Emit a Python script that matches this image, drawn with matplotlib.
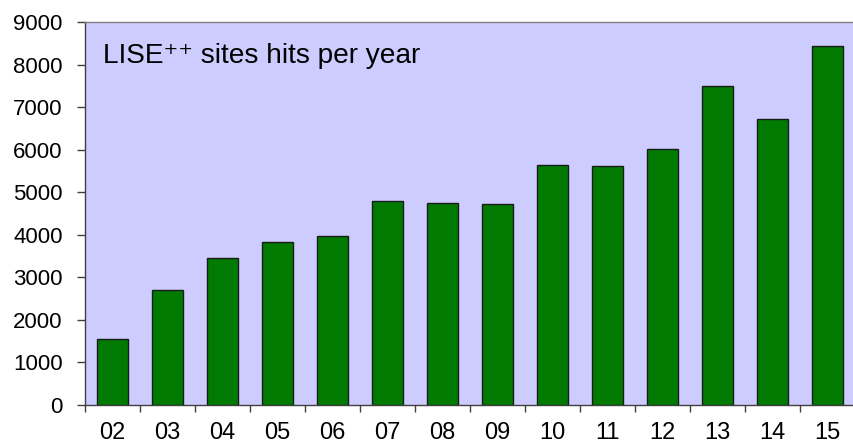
import matplotlib
matplotlib.use("Agg")
import matplotlib.pyplot as plt
import numpy as np

years = ["02", "03", "04", "05", "06", "07", "08", "09", "10", "11", "12", "13", "14", "15"]
hits = [1550, 2705, 3460, 3840, 3975, 4800, 4735, 4715, 5630, 5605, 6010, 7490, 6710, 8430]
yticks = [0, 1000, 2000, 3000, 4000, 5000, 6000, 7000, 8000, 9000]

plt.rcParams['font.family'] = ['Liberation Sans', 'DejaVu Sans']

fig = plt.figure(figsize=(8.54, 4.47), dpi=100)
ax = fig.add_axes([85/854, 1-405/447, 770/854, (405-22)/447])
ax.set_facecolor('#CCCCFF')

x = np.arange(len(years))
ax.bar(x, hits, width=0.55, color='#007A00', edgecolor='#1a1a1a', linewidth=1.0, zorder=3)

ax.set_xlim(-0.5, len(years) - 0.5)
ax.set_ylim(0, 9000)
ax.set_yticks(yticks)
ax.set_yticklabels([str(v) for v in yticks], fontsize=16)
ax.tick_params(axis='y', length=6, width=1, color='#404040', pad=10, direction='out')

# major x ticks at category boundaries, labels at centers via minor ticks
ax.set_xticks(np.arange(-0.5, len(years) - 0.5, 1.0))
ax.set_xticklabels([])
ax.tick_params(axis='x', which='major', length=5, width=1, color='#404040', direction='out')
ax.set_xticks(x, minor=True)
ax.set_xticklabels(years, minor=True, fontsize=17)
ax.tick_params(axis='x', which='minor', length=0, pad=12)

for side in ['left', 'bottom']:
    ax.spines[side].set_color('#404040')
    ax.spines[side].set_linewidth(1.0)
ax.spines['top'].set_color('#808080')
ax.spines['top'].set_linewidth(1.0)
ax.spines['right'].set_visible(False)

ax.text(0.024, 0.893, "LISE\u207a\u207a sites hits per year", transform=ax.transAxes,
        fontsize=20.2, va='baseline', ha='left', color='black')

fig.savefig("out.png", dpi=100)
